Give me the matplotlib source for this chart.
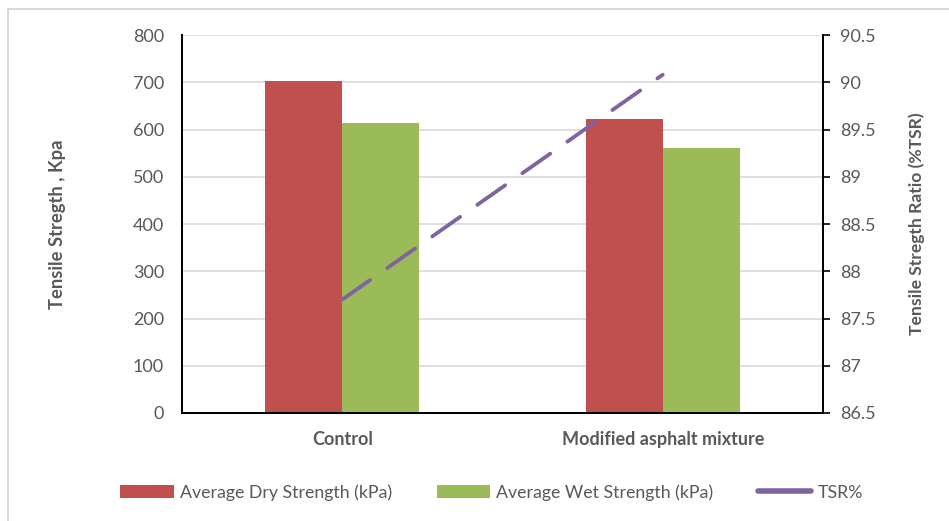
"""Dry/wet tensile strength bars with TSR line on a second axis."""

import numpy as np
import matplotlib.pyplot as plt
from matplotlib.lines import Line2D

plt.rcParams["font.family"] = ["Lato", "DejaVu Sans"]

categories = ["Control", "Modified asphalt mixture"]
dry = [702, 623]
wet = [613, 561]
tsr = [87.7, 90.08]

grey = "#595959"
red = "#C0504D"
green = "#9BBB59"
purple = "#8064A2"

fig = plt.figure(figsize=(9.49, 5.21), dpi=100)
ax = fig.add_axes([0.1918, 0.2073, 0.6754, 0.7255])
ax2 = ax.twinx()

x = np.arange(len(categories))
w = 0.24
ax.bar(x - w / 2, dry, w, color=red, label="Average Dry Strength (kPa)", zorder=2)
ax.bar(x + w / 2, wet, w, color=green, label="Average Wet Strength (kPa)", zorder=2)
ax2.plot(x, tsr, color=purple, lw=2.75, linestyle=(0, (8.9, 5.5)),
         dash_capstyle="round", label="TSR%")

ax.set_xlim(-0.5, 1.5)
ax.set_ylim(0, 800)
ax.set_yticks(range(0, 801, 100))
ax2.set_ylim(86.5, 90.5)
ax2.set_yticks(np.arange(86.5, 90.51, 0.5))
ax2.set_yticklabels(["86.5", "87", "87.5", "88", "88.5", "89", "89.5", "90", "90.5"])

ax.set_xticks(x)
ax.set_xticklabels(categories, fontweight="bold", fontsize=13, color=grey)
ax.tick_params(axis="x", length=0, pad=13)
ax.tick_params(axis="y", length=0, pad=13, labelsize=13, labelcolor=grey)
ax2.tick_params(axis="y", length=5, width=1.2, color="black", direction="out",
                pad=7, labelsize=13, labelcolor=grey)

ax.yaxis.grid(True, color="#d9d9d9", lw=1.2)
ax.set_axisbelow(True)

for a in (ax, ax2):
    a.spines["top"].set_visible(False)
    for s in ("left", "right", "bottom"):
        a.spines[s].set_color("black")
        a.spines[s].set_linewidth(1.3)

ax.set_ylabel("Tensile Stregth , Kpa", fontsize=13.2, fontweight="bold", color=grey, labelpad=48)
ax2.set_ylabel("Tensile Stregth Ratio (%TSR)", fontsize=12.6, fontweight="bold", color=grey,
               labelpad=24)

h1, l1 = ax.get_legend_handles_labels()
handles = h1 + [Line2D([0], [0], color=purple, lw=4, solid_capstyle="round")]
labels = l1 + ["TSR%"]
fig.legend(handles, labels, loc="center", bbox_to_anchor=(0.518, 0.055), ncol=3,
           frameon=False, fontsize=12.8, labelcolor=grey, handlelength=3.0,
           handleheight=0.8, columnspacing=2.5, handletextpad=0.35)

# light outer frame (top and left edges visible)
fig.add_artist(Line2D([8 / 949, 8 / 949], [0, 1 - 9 / 521], color="#d9d9d9", lw=1.5))
fig.add_artist(Line2D([8 / 949, 1], [1 - 9 / 521, 1 - 9 / 521], color="#d9d9d9", lw=1.5))

fig.savefig("out.png", dpi=100)
